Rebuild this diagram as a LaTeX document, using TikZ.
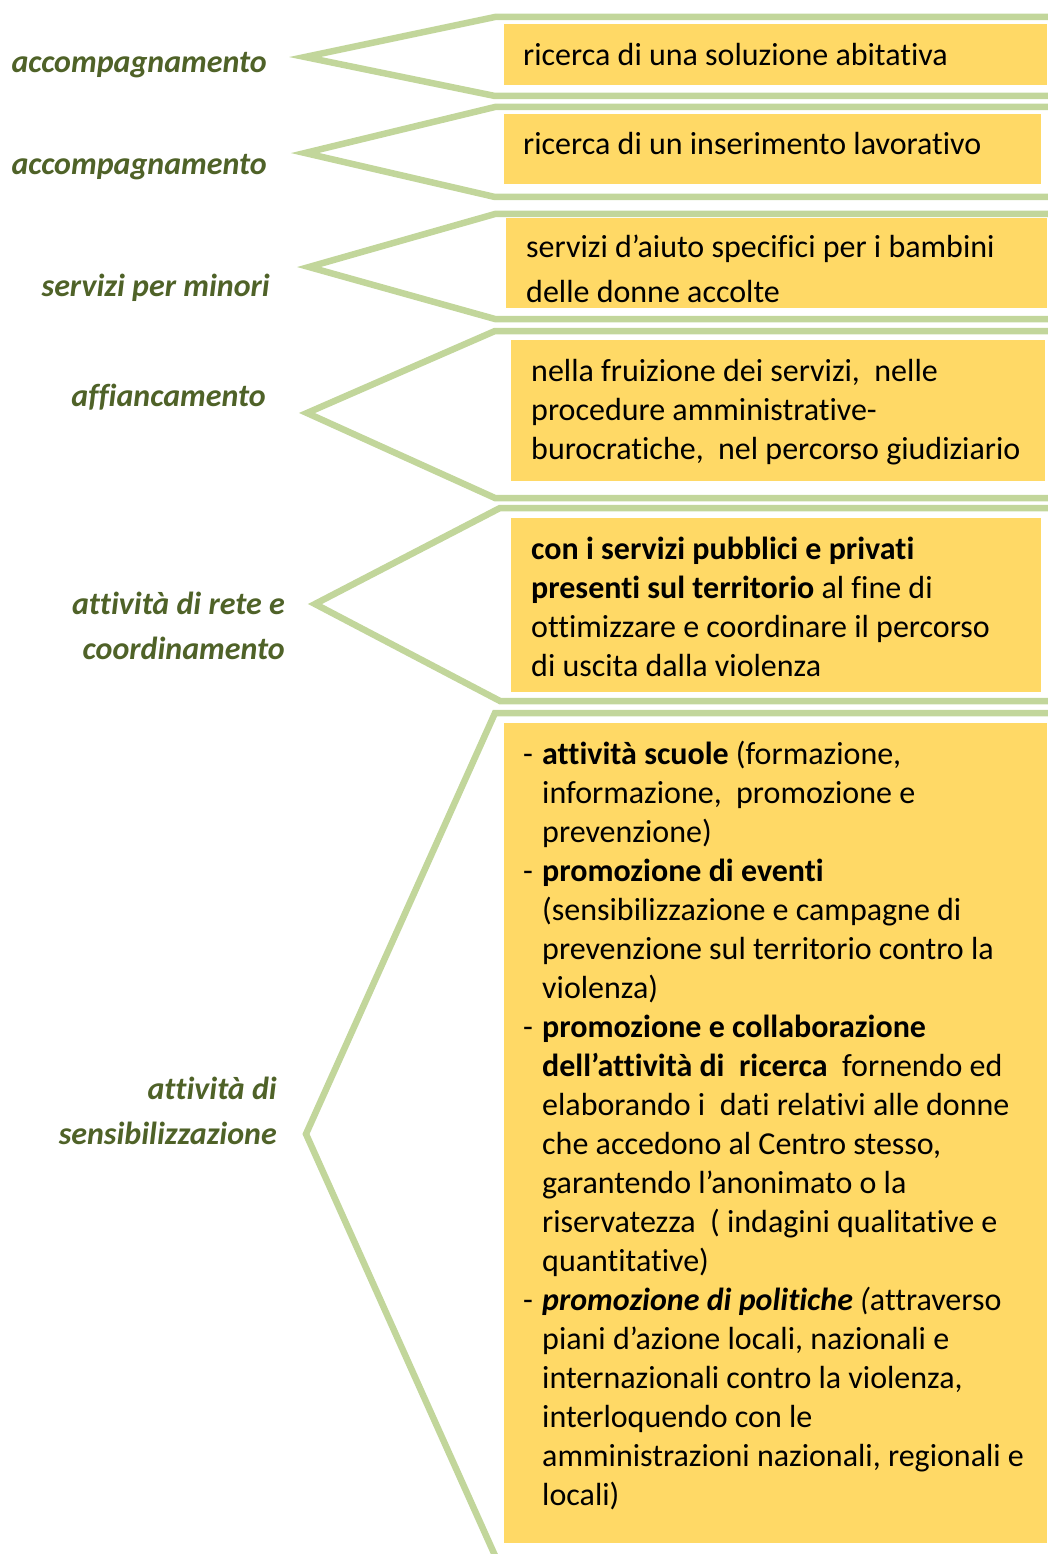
\documentclass[tikz,border=0pt]{standalone}
\usepackage{fontspec}
\setmainfont{Carlito}[Ligatures=NoCommon]
\definecolor{boxyellow}{HTML}{FFD966}
\definecolor{linegreen}{HTML}{C2D69B}
\definecolor{labelgreen}{HTML}{4F6228}
\newcommand\fst{\rule{0pt}{27pt}}
\newcommand\dsh{\makebox[19pt][l]{-}}
\newcommand\ind{\hspace*{19pt}}
\begin{document}
\begin{tikzpicture}[x=1pt,y=-1pt,
  chev/.style={draw=linegreen,line width=6.5pt,line join=miter},
  yellowbox/.style={fill=boxyellow},
  boxtext/.style={anchor=north west,inner sep=0pt,align=left,font=\fontsize{32}{39}\selectfont},
  lab/.style={anchor=north east,inner sep=0pt,align=right,text=labelgreen,font=\fontsize{32}{45}\selectfont\bfseries\itshape}]
\useasboundingbox (0,0) rectangle (1047,1554);

% chevrons
\draw[chev] (1052,17) -- (495,17) -- (305,57) -- (495,96) -- (1052,96);
\draw[chev] (1052,107) -- (495,107) -- (305,153) -- (495,197) -- (1052,197);
\draw[chev] (1052,214) -- (495,214) -- (309,267) -- (495,319) -- (1052,319);
\draw[chev] (1052,331) -- (495,331) -- (307,413) -- (495,498) -- (1052,498);
\draw[chev] (1052,508) -- (500,508) -- (315,604) -- (500,701) -- (1052,701);
\draw[chev] (1052,713) -- (495,713) -- (306,1134) -- (497,1560);

% boxes
\fill[yellowbox] (504,24) rectangle (1047,85);
\fill[yellowbox] (504,114) rectangle (1041,184);
\fill[yellowbox] (506,218) rectangle (1047,308);
\fill[yellowbox] (511,340) rectangle (1045,481);
\fill[yellowbox] (511,518) rectangle (1041,692);
\fill[yellowbox] (504,723) rectangle (1047,1543);

% box texts
\node[boxtext] (t1) at (523,65-27) {\fst ricerca di una soluzione abitativa};
\node[boxtext] (t2) at (523,154-27) {\fst ricerca di un inserimento lavorativo};
\node[boxtext,font=\fontsize{32}{45}\selectfont] (t3) at (526,257-27) {\fst servizi d’aiuto specifici per i bambini\\delle donne accolte};
\node[boxtext] (t4) at (531,381-27) {\fst nella fruizione dei servizi,\ \ nelle\\procedure amministrative-\\burocratiche,\ \ nel percorso giudiziario};
\node[boxtext] (t5) at (531,559-27) {\fst\textbf{con i servizi pubblici e privati}\\\textbf{presenti sul territorio} al fine di\\ottimizzare e coordinare il percorso\\di uscita dalla violenza};
\node[boxtext] (t6) at (523,764-27) {\fst\dsh\textbf{attività scuole} (formazione,\\
\ind informazione,\ \ promozione e\\
\ind prevenzione)\\
\dsh\textbf{promozione di eventi}\\
\ind (sensibilizzazione e campagne di\\
\ind prevenzione sul territorio contro la\\
\ind violenza)\\
\dsh\textbf{promozione e collaborazione}\\
\ind\textbf{dell’attività di\ \ ricerca}\ \ fornendo ed\\
\ind elaborando i\ \ dati relativi alle donne\\
\ind che accedono al Centro stesso,\\
\ind garantendo l’anonimato o la\\
\ind riservatezza\ \ ( indagini qualitative e\\
\ind quantitative)\\
\dsh\textbf{\textit{promozione di politiche}} \textit{(}attraverso\\
\ind piani d’azione locali, nazionali e\\
\ind internazionali contro la violenza,\\
\ind interloquendo con le\\
\ind amministrazioni nazionali, regionali e\\
\ind locali)};

% labels
\node[lab] (l1) at (267,72-29) {\rule{0pt}{29pt}accompagnamento};
\node[lab] (l2) at (267,174-29) {\rule{0pt}{29pt}accompagnamento};
\node[lab] (l3) at (270,296-29) {\rule{0pt}{29pt}servizi per minori};
\node[lab] (l4) at (266,406-29) {\rule{0pt}{29pt}affiancamento};
\node[lab] (l5) at (285,614-29) {\rule{0pt}{29pt}attività di rete e\\coordinamento};
\node[lab] (l6) at (277,1099-29) {\rule{0pt}{29pt}attività di\\sensibilizzazione};
\end{tikzpicture}
\end{document}
